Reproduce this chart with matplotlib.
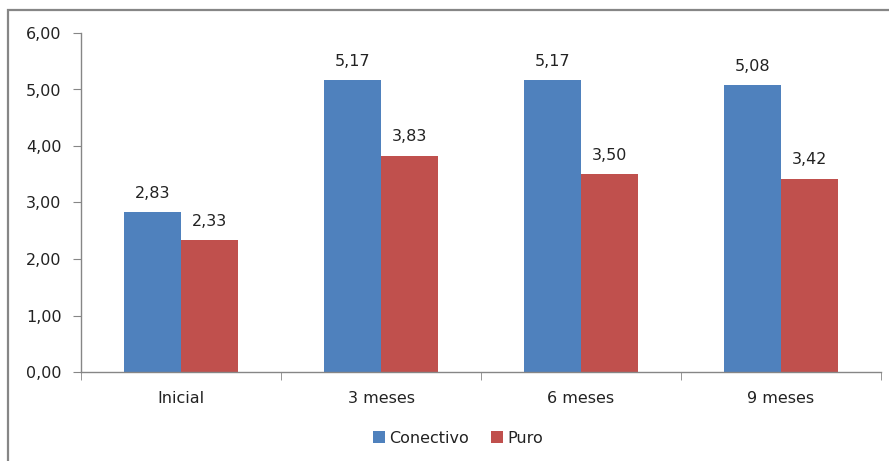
import matplotlib.pyplot as plt
import matplotlib.patches as patches
import numpy as np

# Chart data
categorias = ["Inicial", "3 meses", "6 meses", "9 meses"]
conectivo = [2.83, 5.17, 5.17, 5.08]
puro = [2.33, 3.83, 3.50, 3.42]
y_ticks = [0, 1, 2, 3, 4, 5, 6]

def fmt(v):
    return f"{v:.2f}".replace(".", ",")

plt.rcParams['font.family'] = 'DejaVu Sans'
fs = 11.5

fig = plt.figure(figsize=(8.89, 4.61), dpi=100)
ax = fig.add_axes([81/889, 1 - 372/461, 800/889, 339/461])

# outer chart frame (runs off the right and bottom edges)
fig.patches.append(patches.Rectangle((8/889, -0.05), 1.1, 1 - 10/461 + 0.05,
                                     transform=fig.transFigure, fill=False,
                                     edgecolor='#868686', linewidth=1.6))

x = np.arange(len(categorias))
w = 0.285
b1 = ax.bar(x - w/2, conectivo, w, color='#4F81BD', label='Conectivo')
b2 = ax.bar(x + w/2, puro, w, color='#C0504D', label='Puro')

for bars, vals in ((b1, conectivo), (b2, puro)):
    for bar, v in zip(bars, vals):
        ax.text(bar.get_x() + bar.get_width()/2, v + 0.2, fmt(v),
                ha='center', va='bottom', fontsize=fs, color='#222222')

ax.set_xlim(-0.5, len(categorias) - 0.5)
ax.set_ylim(0, 6)
ax.set_yticks(y_ticks)
ax.set_yticklabels([fmt(v) for v in y_ticks])
ax.set_xticks(x)
ax.set_xticklabels(categorias)
ax.set_xticks(np.arange(len(categorias) + 1) - 0.5, minor=True)

for s in ('top', 'right'):
    ax.spines[s].set_visible(False)
for s in ('left', 'bottom'):
    ax.spines[s].set_color('#868686')
    ax.spines[s].set_linewidth(1.0)

ax.tick_params(axis='y', length=6, color='#868686', labelsize=fs,
               labelcolor='#222222', pad=8)
ax.tick_params(axis='x', which='major', length=0, labelsize=fs,
               labelcolor='#222222', pad=14)
ax.tick_params(axis='x', which='minor', length=6, color='#868686')

ax.legend(loc='center', bbox_to_anchor=(458/889, 1 - 438/461),
          bbox_transform=fig.transFigure, ncol=2, frameon=False,
          fontsize=fs, handlelength=0.75, handleheight=0.75,
          handletextpad=0.25, columnspacing=1.4, labelcolor='#222222')

fig.savefig('out.png', dpi=100)
